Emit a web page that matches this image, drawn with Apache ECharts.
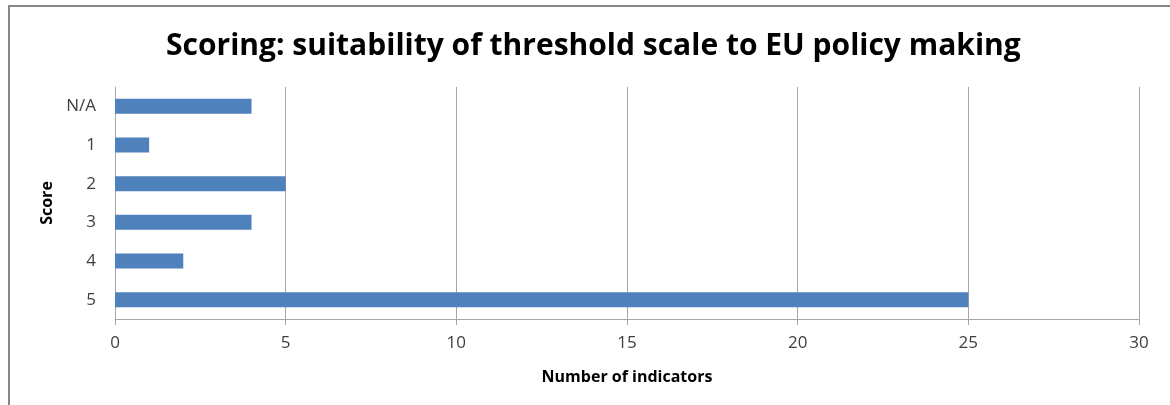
<!DOCTYPE html>
<html>
<head>
<meta charset="utf-8">
<style>
  html, body { margin: 0; padding: 0; background: #ffffff; }
  #chart { width: 1170px; height: 405px; }
</style>
<script src="https://cdn.jsdelivr.net/npm/echarts@6/dist/echarts.min.js"></script>
</head>
<body>
<div id="chart"></div>
<script>
// Score categories (top to bottom) and how many indicators got each score
const scores = ['N/A', '1', '2', '3', '4', '5'];
const indicatorCounts = [4, 1, 5, 4, 2, 25];

// Horizontal axis ticks
const xMin = 0;
const xMax = 30;
const xStep = 5;

const chartTitle = 'Scoring: suitability of threshold scale to EU policy making';
const headingAbove = 'Suitability of threshold scale to EU policy making';
const yName = 'Score';
const xName = 'Number of indicators';

const FONT = '"Open Sans", "Noto Sans", sans-serif';
const gridGray = '#a6a6a6';
const textGray = '#404040';

const chart = echarts.init(document.getElementById('chart'), null, { renderer: 'canvas' });

chart.setOption({
  backgroundColor: '#ffffff',
  animation: false,
  title: {
    text: chartTitle,
    left: 161,
    top: 26,
    textStyle: { fontFamily: FONT, fontWeight: 'bold', fontSize: 30, color: '#000000' }
  },
  graphic: [
    {
      // document heading running above the frame
      type: 'text',
      silent: true,
      left: 53,
      top: -18,
      style: {
        text: headingAbove,
        fill: '#0070c0',
        font: 'bold 18px ' + FONT
      }
    },
    {
      // frame of the chart area
      type: 'rect',
      silent: true,
      shape: { x: 9, y: 6, width: 1300, height: 600 },
      style: { fill: '#ffffff', stroke: '#868686', lineWidth: 2 },
      z: -1
    }
  ],
  grid: { left: 115, right: 31, top: 87, bottom: 86, containLabel: false },
  xAxis: {
    type: 'value',
    min: xMin,
    max: xMax,
    interval: xStep,
    name: xName,
    nameLocation: 'middle',
    nameGap: 50,
    nameTextStyle: { fontFamily: FONT, fontWeight: 'bold', fontSize: 16, color: '#000000' },
    axisLine: { show: true, lineStyle: { color: gridGray, width: 1 } },
    axisTick: { show: true, length: 6, lineStyle: { color: gridGray } },
    axisLabel: { fontFamily: FONT, fontSize: 17, color: textGray, margin: 16 },
    splitLine: { show: true, lineStyle: { color: gridGray, width: 1 } }
  },
  yAxis: {
    type: 'category',
    data: scores,
    inverse: true,
    name: yName,
    nameLocation: 'middle',
    nameRotate: 90,
    nameGap: 58,
    nameTextStyle: { fontFamily: FONT, fontWeight: 'bold', fontSize: 16, color: '#000000' },
    axisLine: { show: true, lineStyle: { color: gridGray, width: 1 } },
    axisTick: { show: false },
    axisLabel: { fontFamily: FONT, fontSize: 17, color: textGray, margin: 19 },
    splitLine: { show: false }
  },
  series: [
    {
      type: 'bar',
      data: indicatorCounts,
      barWidth: 15,
      itemStyle: { color: '#4f81bd' }
    }
  ]
});
</script>
</body>
</html>
